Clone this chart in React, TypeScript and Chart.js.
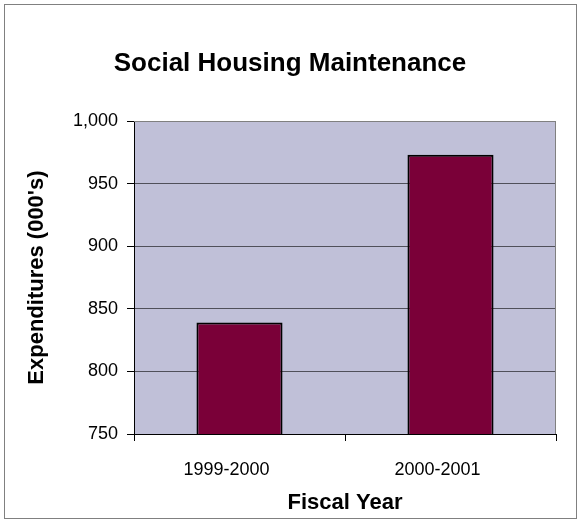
import React, { useEffect, useRef } from "react";
import { Chart, registerables } from "chart.js";

Chart.register(...registerables);

const categories = ["1999-2000", "2000-2001"];
const expenditures = [839, 973];
const yMin = 750;
const yMax = 1000;
const yStep = 50;
const chartTitle = "Social Housing Maintenance";
const xTitle = "Fiscal Year";
const yTitle = "Expenditures (000's)";

const FONT = "'Liberation Sans', Arial, sans-serif";

const plotBackground = {
  id: "plotBackground",
  beforeDraw(chart: any) {
    const { ctx, chartArea } = chart;
    ctx.save();
    ctx.fillStyle = "#C0C0D8";
    ctx.fillRect(chartArea.left, chartArea.top, chartArea.right - chartArea.left, chartArea.bottom - chartArea.top);
    ctx.restore();
  },
  afterDatasetsDraw(chart: any) {
    const { ctx, chartArea } = chart;
    ctx.save();
    ctx.strokeStyle = "#808080";
    ctx.lineWidth = 1;
    ctx.beginPath();
    ctx.moveTo(chartArea.left, chartArea.top + 0.5);
    ctx.lineTo(chartArea.right - 0.5, chartArea.top + 0.5);
    ctx.lineTo(chartArea.right - 0.5, chartArea.bottom);
    ctx.stroke();
    ctx.restore();
  },
};

export default function App() {
  const ref = useRef<HTMLCanvasElement | null>(null);

  useEffect(() => {
    if (!ref.current) return;
    Chart.defaults.font.family = FONT;
    Chart.defaults.color = "#000";
    const chart = new Chart(ref.current, {
      type: "bar",
      data: {
        labels: categories,
        datasets: [
          {
            data: expenditures,
            backgroundColor: "#7A0038",
            borderColor: "#000000",
            borderWidth: 2,
            categoryPercentage: 1,
            barPercentage: 0.408,
            yAxisID: "y",
          },
        ],
      },
      plugins: [plotBackground],
      options: {
        animation: false,
        responsive: false,
        maintainAspectRatio: false,
        layout: { padding: 0 },
        plugins: {
          legend: { display: false },
          tooltip: { enabled: false },
          title: {
            display: true,
            text: chartTitle,
            color: "#000",
            font: { size: 26, weight: "bold", family: FONT, lineHeight: 1.2 },
            padding: { top: 48, bottom: 41.8 },
          },
        },
        scales: {
          x: {
            afterFit: (scale: any) => {
              scale.height = 88;
            },
            grid: {
              offset: true,
              drawOnChartArea: false,
              drawTicks: true,
              tickLength: 7,
              tickColor: "#000",
              color: "#000",
            },
            border: { display: true, color: "#000", width: 1 },
            ticks: { color: "#000", font: { size: 18, family: FONT }, padding: 18, labelOffset: -13 },
            title: {
              display: true,
              text: xTitle,
              color: "#000",
              font: { size: 22, weight: "bold", family: FONT, lineHeight: 1.2 },
              padding: { top: 0, bottom: 6 },
            },
          },
          y: {
            position: "left",
            min: yMin,
            max: yMax,
            afterFit: (scale: any) => {
              scale.width = 134;
            },
            grid: {
              color: (ctx: any) => (ctx.tick && ctx.tick.value === yMax ? "#808080" : "#50505A"),
              lineWidth: 1,
              drawTicks: true,
              tickLength: 7,
              tickColor: "#000",
            },
            border: { display: true, color: "#000", width: 1 },
            ticks: { stepSize: yStep, color: "#000", font: { size: 18, family: FONT }, padding: 9 },
            title: {
              display: true,
              text: yTitle,
              color: "#000",
              font: { size: 22, weight: "bold", family: FONT, lineHeight: 1.2 },
              padding: { top: 24, bottom: 0 },
            },
          },
          yRight: {
            type: "linear",
            position: "right",
            display: true,
            afterFit: (scale: any) => {
              scale.width = 24;
            },
            grid: { display: false, drawTicks: false },
            border: { display: false },
            ticks: { display: false },
          },
        },
      },
    } as any);
    return () => chart.destroy();
  }, []);

  return (
    <div style={{ position: "absolute", left: 0, top: 0, width: 580, height: 522, background: "#fff" }}>
      <canvas ref={ref} width={580} height={522} style={{ position: "absolute", left: 0, top: 0, width: 580, height: 522 }} />
      <div
        style={{
          position: "absolute",
          left: 4,
          top: 4,
          width: 571,
          height: 513,
          border: "1px solid #808080",
          pointerEvents: "none",
        }}
      />
    </div>
  );
}
